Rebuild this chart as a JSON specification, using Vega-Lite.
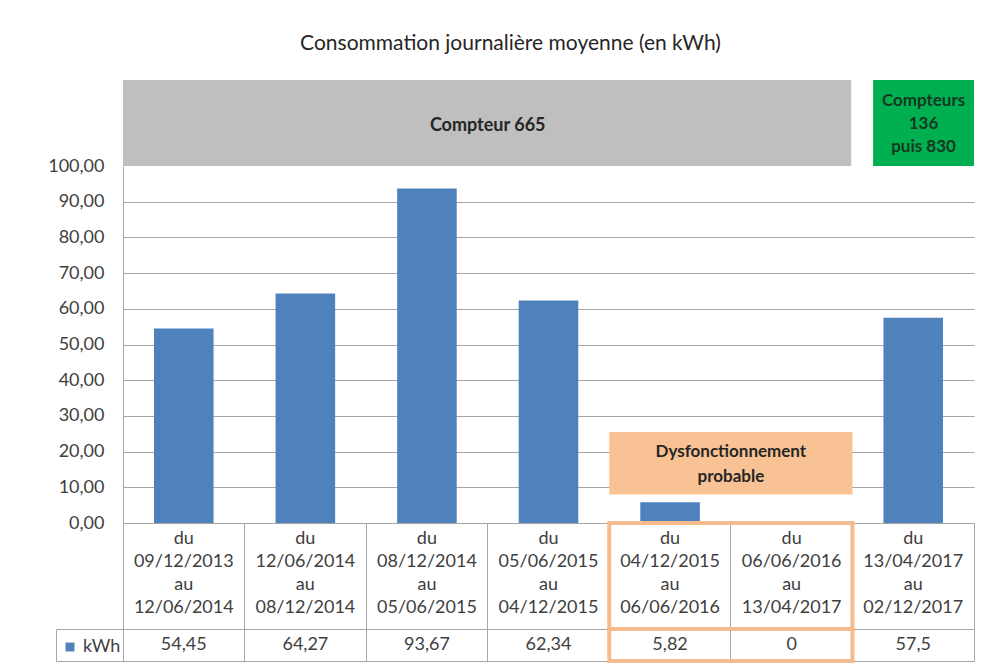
{
  "$schema": "https://vega.github.io/schema/vega-lite/v6.json",
  "background": "white",
  "padding": {"left": 47, "top": 33, "right": 25, "bottom": 5},
  "title": {
    "text": "Consommation journalière moyenne (en kWh)",
    "font": "Lato",
    "fontSize": 21,
    "fontWeight": "normal",
    "color": "#262626",
    "anchor": "middle",
    "frame": "group",
    "dx": -38,
    "offset": 26
  },
  "config": {
    "font": "Lato",
    "view": {"stroke": null},
    "locale": {
      "number": {"decimal": ",", "thousands": " ", "grouping": [3], "currency": ["", " €"]}
    }
  },
  "datasets": {
    "conso": [
      {"periode": "du\n09/12/2013\nau\n12/06/2014", "serie": "kWh", "kwh": 54.45},
      {"periode": "du\n12/06/2014\nau\n08/12/2014", "serie": "kWh", "kwh": 64.27},
      {"periode": "du\n08/12/2014\nau\n05/06/2015", "serie": "kWh", "kwh": 93.67},
      {"periode": "du\n05/06/2015\nau\n04/12/2015", "serie": "kWh", "kwh": 62.34},
      {"periode": "du\n04/12/2015\nau\n06/06/2016", "serie": "kWh", "kwh": 5.82},
      {"periode": "du\n06/06/2016\nau\n13/04/2017", "serie": "kWh", "kwh": 0},
      {"periode": "du\n13/04/2017\nau\n02/12/2017", "serie": "kWh", "kwh": 57.5}
    ],
    "compteur665": [
      {"debut": "du\n09/12/2013\nau\n12/06/2014", "fin": "du\n06/06/2016\nau\n13/04/2017", "texte": "Compteur 665"}
    ],
    "compteursSuivants": [
      {"debut": "du\n13/04/2017\nau\n02/12/2017", "fin": "du\n13/04/2017\nau\n02/12/2017", "texte": "Compteurs\n136\npuis 830"}
    ],
    "anomalie": [
      {"debut": "du\n04/12/2015\nau\n06/06/2016", "fin": "du\n06/06/2016\nau\n13/04/2017", "bas": 8, "haut": 25.5, "milieu": 16.7, "texte": "Dysfonctionnement\nprobable"}
    ]
  },
  "bounds": "flush",
  "spacing": 0,
  "resolve": {"scale": {"x": "independent", "y": "independent", "color": "independent"}},
  "vconcat": [
    {
      "width": 851,
      "height": 86,
      "layer": [
        {
          "data": {"name": "compteur665"},
          "mark": {"type": "rect", "color": "#bfbfbf"},
          "encoding": {
            "x": {
              "field": "debut", "type": "ordinal", "bandPosition": 0, "axis": null,
              "scale": {"paddingInner": 0, "paddingOuter": 0, "domain": ["du\n09/12/2013\nau\n12/06/2014", "du\n12/06/2014\nau\n08/12/2014", "du\n08/12/2014\nau\n05/06/2015", "du\n05/06/2015\nau\n04/12/2015", "du\n04/12/2015\nau\n06/06/2016", "du\n06/06/2016\nau\n13/04/2017", "du\n13/04/2017\nau\n02/12/2017"]}
            },
            "x2": {"field": "fin", "bandPosition": 0.99}
          }
        },
        {
          "data": {"name": "compteur665"},
          "mark": {"type": "text", "font": "Lato", "fontSize": 18, "fontWeight": "bold", "color": "#262626", "dy": 3},
          "encoding": {
            "x": {"field": "debut", "type": "ordinal", "bandPosition": 3},
            "text": {"field": "texte"}
          }
        },
        {
          "data": {"name": "compteursSuivants"},
          "mark": {"type": "rect", "color": "#00b050"},
          "encoding": {
            "x": {"field": "debut", "type": "ordinal", "bandPosition": 0.17},
            "x2": {"field": "fin", "bandPosition": 1}
          }
        },
        {
          "data": {"name": "compteursSuivants"},
          "mark": {"type": "text", "font": "Lato", "fontSize": 17, "fontWeight": "bold", "color": "#143820", "lineBreak": "\n", "lineHeight": 23, "dy": -22},
          "encoding": {
            "x": {"field": "debut", "type": "ordinal", "bandPosition": 0.585},
            "text": {"field": "texte"}
          }
        }
      ]
    },
    {
      "width": 851,
      "height": 357,
      "layer": [
        {
          "data": {"name": "conso"},
          "mark": {"type": "bar", "width": {"band": 0.49}},
          "encoding": {
            "x": {
              "field": "periode", "type": "ordinal", "axis": null,
              "scale": {"paddingInner": 0, "paddingOuter": 0, "domain": ["du\n09/12/2013\nau\n12/06/2014", "du\n12/06/2014\nau\n08/12/2014", "du\n08/12/2014\nau\n05/06/2015", "du\n05/06/2015\nau\n04/12/2015", "du\n04/12/2015\nau\n06/06/2016", "du\n06/06/2016\nau\n13/04/2017", "du\n13/04/2017\nau\n02/12/2017"]}
            },
            "y": {
              "field": "kwh", "type": "quantitative",
              "scale": {"domain": [0, 100], "nice": false},
              "axis": {
                "title": null,
                "values": [0, 10, 20, 30, 40, 50, 60, 70, 80, 90, 100],
                "tickCount": 11,
                "format": ".2f",
                "labelOverlap": false,
                "labelFont": "Lato",
                "labelFontSize": 18,
                "labelColor": "#404040",
                "labelPadding": 19,
                "ticks": false,
                "domainColor": "#a6a6a6",
                "grid": true,
                "gridColor": {"condition": {"test": "datum.value >= 100", "value": "transparent"}, "value": "#a6a6a6"}
              }
            },
            "color": {
              "field": "serie", "type": "nominal",
              "scale": {"range": ["#4f81bd"]},
              "legend": {
                "orient": "none", "legendX": -62, "legendY": 472,
                "title": null, "symbolType": "square", "symbolSize": 80,
                "labelFont": "Lato", "labelFontSize": 18, "labelColor": "#404040",
                "labelOffset": 4, "padding": 0
              }
            }
          }
        },
        {
          "data": {"name": "anomalie"},
          "mark": {"type": "rect", "color": "#f9c294"},
          "encoding": {
            "x": {"field": "debut", "type": "ordinal", "bandPosition": 0},
            "x2": {"field": "fin", "bandPosition": 1},
            "y": {"field": "bas", "type": "quantitative"},
            "y2": {"field": "haut"}
          }
        },
        {
          "data": {"name": "anomalie"},
          "mark": {"type": "text", "font": "Lato", "fontSize": 17, "fontWeight": "bold", "color": "#262626", "lineBreak": "\n", "lineHeight": 25, "dy": -11},
          "encoding": {
            "x": {"field": "fin", "type": "ordinal", "bandPosition": 0},
            "y": {"field": "milieu", "type": "quantitative"},
            "text": {"field": "texte"}
          }
        }
      ]
    },
    {
      "width": 851,
      "height": 106,
      "view": {"stroke": "#a6a6a6"},
      "layer": [
        {
          "data": {"name": "conso"},
          "mark": {"type": "text", "font": "Lato", "fontSize": 18, "color": "#404040", "lineBreak": "\n", "lineHeight": 23, "dy": -37},
          "encoding": {
            "x": {
              "field": "periode", "type": "ordinal",
              "scale": {"paddingInner": 0, "paddingOuter": 0, "domain": ["du\n09/12/2013\nau\n12/06/2014", "du\n12/06/2014\nau\n08/12/2014", "du\n08/12/2014\nau\n05/06/2015", "du\n05/06/2015\nau\n04/12/2015", "du\n04/12/2015\nau\n06/06/2016", "du\n06/06/2016\nau\n13/04/2017", "du\n13/04/2017\nau\n02/12/2017"]},
              "axis": {"bandPosition": 0, "grid": true, "gridColor": "#a6a6a6", "labels": false, "ticks": false, "domain": false, "title": null}
            },
            "text": {"field": "periode"}
          }
        },
        {
          "data": {"name": "anomalie"},
          "mark": {"type": "rect", "fillOpacity": 0, "stroke": "#f6bb8c", "strokeWidth": 4},
          "encoding": {
            "x": {"field": "debut", "type": "ordinal", "bandPosition": 0},
            "x2": {"field": "fin", "bandPosition": 1}
          }
        }
      ]
    },
    {
      "width": 851,
      "height": 32,
      "view": {"stroke": "#a6a6a6"},
      "layer": [
        {
          "data": {"name": "conso"},
          "mark": {"type": "text", "font": "Lato", "fontSize": 18, "color": "#404040"},
          "encoding": {
            "x": {
              "field": "periode", "type": "ordinal",
              "scale": {"paddingInner": 0, "paddingOuter": 0, "domain": ["du\n09/12/2013\nau\n12/06/2014", "du\n12/06/2014\nau\n08/12/2014", "du\n08/12/2014\nau\n05/06/2015", "du\n05/06/2015\nau\n04/12/2015", "du\n04/12/2015\nau\n06/06/2016", "du\n06/06/2016\nau\n13/04/2017", "du\n13/04/2017\nau\n02/12/2017"]},
              "axis": {"bandPosition": 0, "grid": true, "gridColor": "#a6a6a6", "labels": false, "ticks": false, "domain": false, "title": null}
            },
            "y": {
              "field": "serie", "type": "nominal",
              "scale": {"paddingInner": 0, "paddingOuter": 0},
              "axis": {"orient": "left", "offset": 67, "tickBand": "extent", "tickSize": -67, "labels": false, "tickColor": "#a6a6a6", "domainColor": "#a6a6a6", "title": null}
            },
            "text": {"field": "kwh", "type": "quantitative", "format": "~r"}
          }
        },
        {
          "data": {"name": "anomalie"},
          "mark": {"type": "rect", "fillOpacity": 0, "stroke": "#f6bb8c", "strokeWidth": 4},
          "encoding": {
            "x": {"field": "debut", "type": "ordinal", "bandPosition": 0},
            "x2": {"field": "fin", "bandPosition": 1}
          }
        }
      ]
    }
  ]
}
